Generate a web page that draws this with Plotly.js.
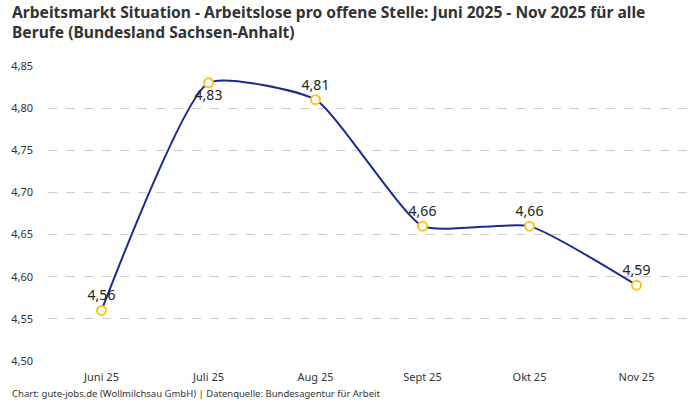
<!DOCTYPE html>
<html>
<head>
<meta charset="utf-8">
<script src="https://cdn.plot.ly/plotly-3.0.1.min.js"></script>
<style>
  html, body { margin: 0; padding: 0; background: #fff; }
  #chart { width: 700px; height: 400px; }
</style>
</head>
<body>
<div id="chart"></div>
<script>
const months = ['Juni 25', 'Juli 25', 'Aug 25', 'Sept 25', 'Okt 25', 'Nov 25'];
const ratio = [4.56, 4.83, 4.81, 4.66, 4.66, 4.59];
const labelPos = ['top center', 'bottom center', 'top center', 'top center', 'top center', 'top center'];
const yTicks = [4.50, 4.55, 4.60, 4.65, 4.70, 4.75, 4.80, 4.85];

const fmt = v => v.toFixed(2).replace('.', ',');
const FONT = '"Noto Sans", Roboto, sans-serif';

const line = {
  x: months,
  y: ratio,
  type: 'scatter',
  mode: 'lines+markers+text',
  line: { color: '#1b2a8f', width: 2, shape: 'spline', smoothing: 0.5 },
  marker: { symbol: 'circle', size: 9, color: '#ffffff', line: { color: '#f7c51e', width: 2 } },
  text: ratio.map(fmt),
  textposition: labelPos,
  textfont: { family: FONT, size: 14, color: '#222' },
  cliponaxis: false,
  hoverinfo: 'x+y'
};

// plot area is 295 px tall (400 - 66 - 39)
const ph = 295;

const layout = {
  width: 700,
  height: 400,
  margin: { l: 48, r: 10, t: 66, b: 39 },
  paper_bgcolor: '#ffffff',
  plot_bgcolor: '#ffffff',
  separators: ',.',
  font: { family: FONT, color: '#333' },
  showlegend: false,
  xaxis: {
    type: 'category',
    range: [-0.5, 5.5],
    showgrid: false,
    zeroline: false,
    showline: false,
    ticks: '',
    ticklabelstandoff: 8,
    tickfont: { size: 11, color: '#333' }
  },
  yaxis: {
    range: [4.5, 4.85],
    tickvals: yTicks,
    ticktext: yTicks.map(fmt),
    showgrid: true,
    gridcolor: '#cccccc',
    griddash: 'dash',
    gridwidth: 1,
    zeroline: false,
    showline: false,
    ticks: '',
    ticklabelstandoff: 14,
    tickfont: { size: 11, color: '#333' }
  },
  annotations: [
    {
      xref: 'paper', yref: 'paper',
      x: -38 / 642, xanchor: 'left',
      y: 1 + 67 / ph, yanchor: 'top',
      align: 'left',
      text: '<b>Arbeitsmarkt Situation - Arbeitslose pro offene Stelle: Juni 2025 - Nov 2025 für alle<br>Berufe (Bundesland Sachsen-Anhalt)</b>',
      font: { family: FONT, size: 15.6, color: '#333' },
      showarrow: false
    },
    {
      xref: 'paper', yref: 'paper',
      x: -38 / 642, xanchor: 'left',
      y: -32 / ph, yanchor: 'middle',
      text: 'Chart: gute-jobs.de (Wollmilchsau GmbH) | Datenquelle: Bundesagentur für Arbeit',
      font: { family: FONT, size: 9.5, color: '#333' },
      showarrow: false
    }
  ]
};

Plotly.newPlot('chart', [line], layout, { staticPlot: true, displayModeBar: false });
</script>
</body>
</html>
